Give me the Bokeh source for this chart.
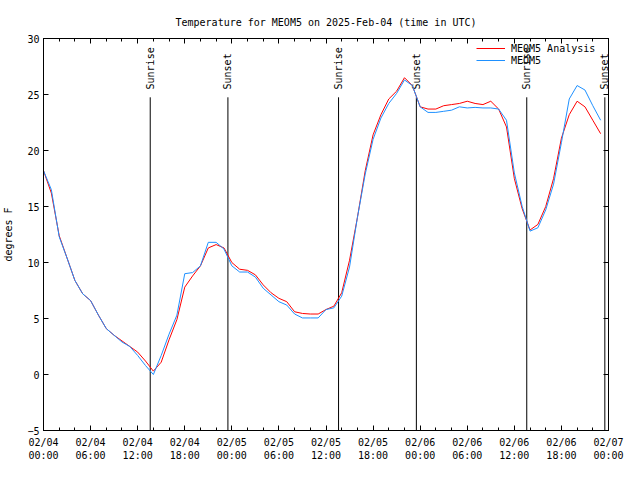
import numpy as np
import pandas as pd
from bokeh.plotting import figure
from bokeh.models import (Range1d, FixedTicker, DatetimeTickFormatter, LinearAxis,
                          DatetimeAxis, Legend, LegendItem, ColumnDataSource)
from bokeh.core.properties import value
from bokeh.embed import file_html
from bokeh.resources import INLINE

FONT = "DejaVu Sans Mono"

# ---------------- data ----------------
start = pd.Timestamp("2025-02-04 00:00")
end = pd.Timestamp("2025-02-07 00:00")
times = pd.date_range(start, periods=72, freq="h")

analysis = [18.2, 16.2, 12.4, 10.4, 8.4, 7.2, 6.6, 5.3, 4.1, 3.5, 3.0, 2.5,
            2.0, 1.2, 0.3, 1.1, 3.1, 4.9, 7.8, 8.8, 9.7, 11.3, 11.6, 11.3,
            10.0, 9.4, 9.3, 8.9, 8.0, 7.3, 6.8, 6.5, 5.6, 5.45, 5.4, 5.4,
            5.8, 6.1, 7.3, 10.2, 14.0, 18.2, 21.4, 23.2, 24.6, 25.3, 26.5, 25.8,
            23.9, 23.7, 23.7, 24.0, 24.1, 24.2, 24.4, 24.2, 24.1, 24.4, 23.7, 22.1,
            17.5, 14.8, 12.9, 13.4, 15.0, 17.5, 21.1, 23.2, 24.4, 23.9, 22.7, 21.5]

observed = [18.2, 16.5, 12.3, 10.4, 8.4, 7.2, 6.6, 5.3, 4.1, 3.5, 2.9, 2.5,
            1.7, 0.8, 0.0, 1.7, 3.6, 5.3, 9.0, 9.1, 9.7, 11.8, 11.8, 11.2,
            9.7, 9.15, 9.15, 8.7, 7.7, 7.1, 6.5, 6.2, 5.4, 5.05, 5.05, 5.05,
            5.8, 5.95, 7.0, 9.6, 14.0, 17.9, 21.0, 22.9, 24.2, 25.1, 26.3, 25.8,
            23.9, 23.4, 23.4, 23.5, 23.6, 23.9, 23.8, 23.85, 23.8, 23.8, 23.7, 22.7,
            18.0, 15.0, 12.8, 13.1, 14.7, 17.0, 20.7, 24.6, 25.8, 25.4, 24.0, 22.7]

event_times = pd.to_datetime(["2025-02-04 13:36", "2025-02-04 23:30",
                              "2025-02-05 13:36", "2025-02-05 23:31",
                              "2025-02-06 13:35", "2025-02-06 23:32"])
event_names = ["Sunrise", "Sunset", "Sunrise", "Sunset", "Sunrise", "Sunset"]

series_names = ["MEOM5 Analysis", "MEOM5"]
series_colors = ["#ff0000", "#1e90ff"]

y_ticks = [-5, 0, 5, 10, 15, 20, 25, 30]
x_major = pd.date_range(start, end, freq="6h")
x_minor = pd.date_range(start, end, freq="2h")


def ms(idx):
    return [int(t.value // 10**6) for t in idx]


# ---------------- figure ----------------
W, H = 624, 464
ML, MR, MT, MB = 43, 16, 38, 34
FW, FH = W - ML - MR, H - MT - MB

y_lo, y_hi = -5, 30
p = figure(width=W, height=H, x_axis_type="datetime",
           output_backend="svg", toolbar_location=None,
           x_range=Range1d(start, end), y_range=Range1d(y_lo, y_hi),
           min_border_left=ML, min_border_right=MR,
           min_border_top=MT, min_border_bottom=MB,
           background_fill_color="white", border_fill_color="white")

p.title.text = "Temperature for MEOM5 on 2025-Feb-04 (time in UTC)"
p.title.text_font = FONT
p.title.text_font_size = "10px"
p.title.text_font_style = "normal"
p.title.text_color = "black"
p.title.align = "center"
p.title.standoff = 21

p.xgrid.visible = False
p.ygrid.visible = False
p.outline_line_color = "black"
p.outline_line_width = 1

xticker = FixedTicker(ticks=ms(x_major), minor_ticks=ms(x_minor))
yticker = FixedTicker(ticks=y_ticks, minor_ticks=[])
fmt = "%m/%d\n%H:%M"
xfmt = DatetimeTickFormatter(milliseconds=fmt, seconds=fmt, minsec=fmt, minutes=fmt,
                             hourmin=fmt, hours=fmt, days=fmt, months=fmt, years=fmt)


def style_axis(ax, labels=True):
    ax.axis_line_color = "black"
    ax.major_tick_in = 5
    ax.major_tick_out = 0
    ax.minor_tick_in = 3
    ax.minor_tick_out = 0
    ax.major_tick_line_color = "black"
    ax.minor_tick_line_color = "black"
    ax.major_label_text_font = FONT
    if labels:
        ax.major_label_text_color = "black"
        ax.major_label_text_font_size = "10px"
        ax.major_label_standoff = 4
    else:
        ax.major_label_text_color = None
        ax.major_label_text_font_size = "0px"
        ax.major_label_standoff = 0


xa = p.xaxis[0]
xa.ticker = xticker
xa.formatter = xfmt
style_axis(xa)
xa.major_label_standoff = 6

ya = p.yaxis[0]
ya.ticker = yticker
style_axis(ya)
ya.axis_label = "degrees F"
ya.axis_label_text_font = FONT
ya.axis_label_text_font_size = "10px"
ya.axis_label_text_font_style = "normal"
ya.axis_label_text_color = "black"
ya.axis_label_standoff = 10

top_ax = DatetimeAxis(ticker=xticker, formatter=xfmt)
style_axis(top_ax, labels=False)
p.add_layout(top_ax, "above")
right_ax = LinearAxis(ticker=yticker)
style_axis(right_ax, labels=False)
p.add_layout(right_ax, "right")

# sunrise / sunset markers (drawn to 85% of the graph height)
line_top = y_lo + 0.85 * (y_hi - y_lo)
ev = ColumnDataSource(dict(x=event_times, name=event_names,
                           y0=[y_lo] * len(event_names),
                           y1=[line_top] * len(event_names),
                           ty=[line_top + 0.7] * len(event_names)))
p.segment(x0="x", y0="y0", x1="x", y1="y1", source=ev, line_color="black", line_width=1)
p.text(x="x", y="ty", text="name", source=ev, angle=np.pi / 2,
       text_align="left", text_baseline="middle",
       text_font=value(FONT), text_font_size="10px", text_color="black")

# data
r_an = p.line(times, analysis, line_color=series_colors[0], line_width=1)
r_ob = p.line(times, observed, line_color=series_colors[1], line_width=1)

# key in the top right corner (location = bottom-left corner, frame pixels)
GLYPH_W, STANDOFF, ROW_H = 29, 6, 12
legend = Legend(items=[LegendItem(label=series_names[0], renderers=[r_an]),
                       LegendItem(label=series_names[1], renderers=[r_ob])],
                location=(FW - 12 - GLYPH_W - STANDOFF - 85, FH - 4 - 2 * ROW_H),
                orientation="vertical",
                border_line_color=None, background_fill_alpha=0,
                glyph_width=GLYPH_W, glyph_height=ROW_H, label_height=ROW_H,
                label_standoff=STANDOFF, label_text_color="black",
                label_text_font=FONT, label_text_font_size="10px",
                padding=0, spacing=0, margin=0)
p.add_layout(legend)

open("out.html", "w").write(file_html(p, INLINE))
